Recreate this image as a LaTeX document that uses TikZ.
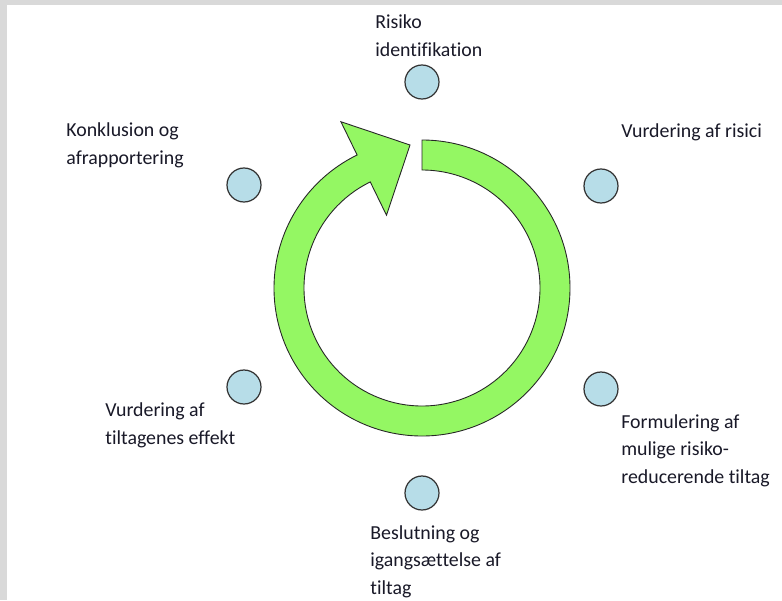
\documentclass[tikz,border=0pt]{standalone}
\usepackage{fontspec}
\setmainfont{Carlito}[Ligatures={NoCommon}]
\usetikzlibrary{calc}
\definecolor{ringgreen}{RGB}{148,247,99}
\definecolor{dotblue}{RGB}{183,221,232}
\definecolor{framegray}{RGB}{217,217,217}
\definecolor{textcol}{RGB}{25,25,40}
\begin{document}
\begin{tikzpicture}[x=0.02cm,y=0.02cm,
  dot/.style={circle,draw=black!80,line width=0.7pt,fill=dotblue,minimum size=0.68cm,inner sep=0pt},
  lbl/.style={align=left,anchor=base west,inner sep=0pt,text=textcol,font=\fontsize{11.3}{15.4}\selectfont},
  ring/.style={fill=ringgreen,draw=black!85,line width=0.5pt,line join=miter}]
\useasboundingbox (0,0) rectangle (782,600);
\fill[framegray] (0,0) rectangle (782,600);
\fill[white] (7,0) rectangle (782,595);
\coordinate (c) at (422,312);
\coordinate (tip) at (410,455);
\draw[ring] ($(c)+(90:148)$) arc[start angle=90,end angle=-244,radius=148]
  -- ($(c)+(116:185)$) -- (tip) -- ($(c)+(116:81)$) -- ($(c)+(116:118)$)
  arc[start angle=-244,end angle=90,radius=118] -- cycle;
\node[dot] (d1) at (422,518) {};
\node[dot] (d2) at (601,414) {};
\node[dot] (d3) at (601,211) {};
\node[dot] (d4) at (422,107) {};
\node[dot] (d5) at (244,213) {};
\node[dot] (d6) at (244,415) {};
\node[lbl] (t1) at (375,544) {Risiko\\identifikation};
\node[lbl] (t2) at (621,463) {Vurdering af risici};
\node[lbl] (t3) at (621,117) {Formulering af\\mulige risiko-\\reducerende tiltag};
\node[lbl] (t4) at (370,6) {Beslutning og\\igangsættelse af\\tiltag};
\node[lbl] (t5) at (105,156) {Vurdering af\\tiltagenes effekt};
\node[lbl] (t6) at (66,436) {Konklusion og\\afrapportering};
\end{tikzpicture}
\end{document}
